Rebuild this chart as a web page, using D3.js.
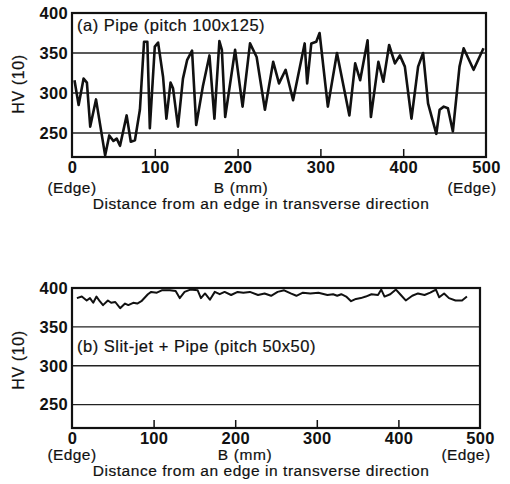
<!DOCTYPE html>
<html>
<head>
<meta charset="utf-8">
<script src="https://cdn.jsdelivr.net/npm/d3@7"></script>
<style>
  body { margin: 0; background: #fff; }
  svg { display: block; font-family: "Liberation Sans", Arial, sans-serif; }
  .lbl { fill: #111; stroke: #111; stroke-width: 0.2px; }
</style>
</head>
<body>
<svg width="510" height="484"></svg>
<script>
// ---- data ----
const xTicks = [0, 100, 200, 300, 400, 500];
const yTicks = [250, 300, 350, 400];

// (a) Pipe (pitch 100x125): B (mm), HV(10)
const pipeB = [3, 8, 14, 18, 22, 29, 40, 45, 50, 54, 58, 66, 71, 76, 82, 87, 91, 94, 100, 104,
  110, 114, 119, 122, 128, 134, 139, 145, 150, 158, 166, 172, 178, 181, 185, 197, 206, 215, 223, 233,
  243, 250, 258, 267, 281, 284, 289, 295, 299, 309, 320, 335, 342, 348, 357, 361, 370, 376, 383, 390,
  396, 402, 410, 418, 424, 430, 440, 444, 449, 454, 460, 468, 473, 485, 497];
const pipeHV = [316, 285, 318, 313, 258, 292, 222, 247, 240, 243, 234, 272, 239, 241, 279, 364, 364, 256, 358, 363,
  320, 268, 313, 306, 258, 318, 341, 353, 260, 308, 347, 268, 365, 354, 270, 354, 283, 362, 345, 279,
  339, 312, 329, 291, 362, 312, 362, 364, 375, 283, 350, 272, 337, 316, 366, 270, 339, 314, 360, 337,
  347, 333, 268, 333, 350, 287, 249, 279, 283, 281, 252, 333, 356, 329, 356];

// (b) Slit-jet + Pipe (pitch 50x50)
const slitB = [6, 12, 18, 22, 26, 30, 34, 38, 44, 48, 53, 59, 65, 69, 75, 80, 85, 93, 97, 104,
  110, 120, 127, 132, 138, 145, 154, 158, 163, 169, 175, 181, 187, 195, 203, 210, 218, 228, 236, 244,
  252, 260, 268, 275, 283, 292, 302, 313, 320, 325, 330, 336, 342, 348, 354, 360, 367, 375, 379, 383,
  390, 397, 403, 409, 417, 424, 432, 439, 446, 450, 456, 462, 470, 478, 484];
const slitHV = [387, 389, 384, 387, 381, 389, 383, 378, 384, 381, 382, 374, 380, 378, 381, 380, 383, 392, 395, 394,
  397, 397, 396, 387, 395, 398, 397, 387, 393, 385, 395, 392, 395, 391, 395, 394, 395, 391, 393, 390,
  395, 397, 393, 390, 394, 393, 394, 391, 392, 390, 392, 389, 383, 386, 387, 389, 392, 391, 398, 389,
  392, 398, 391, 384, 390, 393, 391, 394, 398, 388, 393, 387, 384, 384, 389];

const svg = d3.select("svg");
const font = "Liberation Sans, Arial, sans-serif";

function panel(opt) {
  const x = d3.scaleLinear().domain([0, 500]).range([opt.left, opt.right]);
  const y = d3.scaleLinear().domain([220, 400]).range([opt.bottom, opt.top]);
  const g = svg.append("g");

  // grid lines
  g.selectAll(".grid")
    .data(yTicks.filter(v => v < 400))
    .join("line")
    .attr("x1", opt.left).attr("x2", opt.right)
    .attr("y1", d => y(d)).attr("y2", d => y(d))
    .attr("stroke", "#222").attr("stroke-width", 1.4);

  // y axis labels
  g.append("g")
    .attr("transform", `translate(${opt.left},0)`)
    .call(d3.axisLeft(y).tickValues(yTicks).tickSize(0).tickPadding(4))
    .call(a => a.select(".domain").remove())
    .selectAll("text")
    .attr("fill", "#111")
    .style("font", `bold 16.5px ${font}`)
    .attr("letter-spacing", "0.3px");

  // x axis: ticks pointing inward
  g.append("g")
    .attr("transform", `translate(0,${opt.bottom})`)
    .call(d3.axisBottom(x).tickValues(xTicks).tickSizeInner(-8).tickSizeOuter(0).tickPadding(opt.pad))
    .call(a => a.select(".domain").remove())
    .call(a => a.selectAll("line").attr("stroke", "#111").attr("stroke-width", 1.5)
      .attr("opacity", d => (d === 0 || d === 500) ? 0 : 1))
    .selectAll("text")
    .attr("fill", "#111")
    .style("font", `bold 16.5px ${font}`)
    .attr("letter-spacing", "0.3px");

  // frame
  g.append("rect")
    .attr("x", opt.left).attr("y", opt.top)
    .attr("width", opt.right - opt.left).attr("height", opt.bottom - opt.top)
    .attr("fill", "none").attr("stroke", "#111").attr("stroke-width", 2.2);

  // data line
  const line = d3.line().x(d => x(d[0])).y(d => y(d[1]));
  g.append("path")
    .datum(d3.zip(opt.xs, opt.ys))
    .attr("d", line)
    .attr("fill", "none")
    .attr("stroke", "#111")
    .attr("stroke-width", opt.lw)
    .attr("stroke-linejoin", "round");

  // labels
  g.append("text")
    .attr("class", "lbl")
    .attr("x", opt.left + 5).attr("y", opt.titleY)
    .style("font", `16.5px ${font}`)
    .attr("letter-spacing", "0.5px")
    .text(opt.title);

  g.append("text")
    .attr("class", "lbl")
    .attr("transform", `translate(24,${opt.hvY}) rotate(-90)`)
    .attr("text-anchor", "middle")
    .style("font", `16px ${font}`)
    .attr("letter-spacing", "0.6px")
    .text("HV (10)");

  const sub = opt.bottom + opt.subDy;
  g.append("text").attr("class", "lbl").attr("x", x(0)).attr("y", sub).attr("text-anchor", "middle")
    .style("font", `15.5px ${font}`).attr("letter-spacing", "0.4px").text("(Edge)");
  g.append("text").attr("class", "lbl").attr("x", x(500) - 14).attr("y", sub).attr("text-anchor", "middle")
    .style("font", `15.5px ${font}`).attr("letter-spacing", "0.4px").text("(Edge)");
  g.append("text").attr("class", "lbl").attr("x", opt.bx).attr("y", sub).attr("text-anchor", "middle")
    .style("font", `15.5px ${font}`).attr("letter-spacing", "0.6px").text("B (mm)");
  g.append("text").attr("class", "lbl").attr("x", 261).attr("y", sub + 16).attr("text-anchor", "middle")
    .style("font", `15.5px ${font}`).attr("letter-spacing", "0.55px")
    .text("Distance from an edge in transverse direction");
}

panel({
  left: 72, right: 486, top: 13, bottom: 157, pad: 4, lw: 2.6,
  xs: pipeB, ys: pipeHV,
  title: "(a) Pipe (pitch 100x125)", titleY: 31, hvY: 84, subDy: 36, bx: 241
});

panel({
  left: 72, right: 480, top: 288, bottom: 428, pad: 4, lw: 2,
  xs: slitB, ys: slitHV,
  title: "(b) Slit-jet + Pipe (pitch 50x50)", titleY: 352, hvY: 360, subDy: 32, bx: 245
});
</script>
</body>
</html>
